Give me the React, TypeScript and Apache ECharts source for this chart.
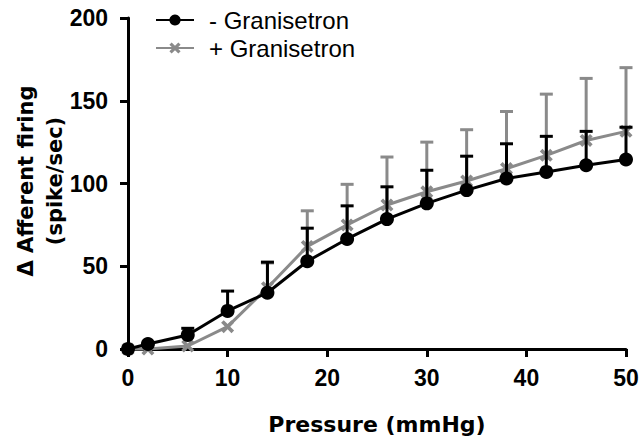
import React, { useEffect, useRef } from "react";
import * as echarts from "echarts";

const pressure = [0, 2, 6, 10, 14, 18, 22, 26, 30, 34, 38, 42, 46, 50];
const minusMean = [0, 3, 8.5, 23, 34, 53, 66.5, 78.5, 88, 96, 103, 107, 111, 114.5];
const minusErr = [0, 0, 4, 12, 18.5, 20, 20, 19.5, 20, 20.5, 21, 21.5, 20.5, 19.5];
const plusMean = [0, 0, 1.8, 13.5, 37, 62, 75, 87, 95, 101.5, 109, 117, 126, 131.5];
const plusErr = [0, 0, 0, 0, 15, 21.5, 24.5, 29, 30, 31, 34.5, 37, 37.5, 38.5];
const xTicks = [0, 10, 20, 30, 40, 50];
const yTicks = [0, 50, 100, 150, 200];

const BLACK = "#000000";
const GREY = "#8a8a8a";
const TICK_FONT = "'Liberation Sans Narrow', 'Liberation Sans', Arial, sans-serif";
const FONT = "'DejaVu Sans', sans-serif";
const LEGEND_FONT = "'Liberation Sans', Arial, sans-serif";

function errSeries(name: string, mean: number[], err: number[], color: string, z: number) {
  const data = pressure.map((x, i) => [x, mean[i], mean[i] + err[i]]);
  return {
    type: "custom",
    name,
    z,
    silent: true,
    data,
    encode: { x: 0, y: [1, 2] },
    renderItem: (params: any, api: any) => {
      const x = api.value(0);
      const m = api.value(1);
      const u = api.value(2);
      if (u - m <= 0) return null;
      const p0 = api.coord([x, m]);
      const p1 = api.coord([x, u]);
      const hw = 6.5;
      return {
        type: "group",
        children: [
          {
            type: "line",
            shape: { x1: p0[0], y1: p0[1], x2: p1[0], y2: p1[1] },
            style: { stroke: color, lineWidth: 3 },
          },
          {
            type: "line",
            shape: { x1: p1[0] - hw, y1: p1[1], x2: p1[0] + hw, y2: p1[1] },
            style: { stroke: color, lineWidth: 3 },
          },
        ],
      };
    },
  };
}

const X_PATH =
  "path://M2,0 L5,3 L8,0 L10,2 L7,5 L10,8 L8,10 L5,7 L2,10 L0,8 L3,5 L0,2 Z";

export default function App() {
  const ref = useRef<HTMLDivElement>(null);
  useEffect(() => {
    if (!ref.current) return;
    const chart = echarts.init(ref.current, undefined, { renderer: "svg" });
    chart.setOption({
      animation: false,
      backgroundColor: "#ffffff",
      grid: { left: 128, right: 16, top: 18, bottom: 92, containLabel: false },
      legend: {
        data: ["- Granisetron", "+ Granisetron"],
        orient: "vertical",
        left: 150,
        top: 3,
        itemWidth: 38,
        itemHeight: 14,
        itemGap: 4,
        textStyle: {
          fontFamily: LEGEND_FONT,
          fontSize: 24,
          color: "#000",
          padding: [0, 0, 0, 10],
        },
      },
      xAxis: {
        type: "value",
        min: 0,
        max: 50,
        interval: 10,
        name: "Pressure (mmHg)",
        nameLocation: "middle",
        nameGap: 64,
        nameTextStyle: { fontFamily: FONT, fontSize: 22, fontWeight: "bold", color: "#000" },
        axisLine: { show: true, onZero: false, lineStyle: { color: "#000", width: 3 } },
        axisTick: { show: true, length: 8, lineStyle: { color: "#000", width: 3 } },
        axisLabel: {
          fontFamily: TICK_FONT,
          fontSize: 23,
          fontWeight: "bold",
          color: "#000",
          margin: 17,
          formatter: (v: number) => (xTicks.includes(v) ? String(v) : ""),
        },
        splitLine: { show: false },
      },
      yAxis: {
        type: "value",
        min: 0,
        max: 200,
        interval: 50,
        axisLine: { show: true, onZero: false, lineStyle: { color: "#000", width: 3 } },
        axisTick: { show: true, length: 8, lineStyle: { color: "#000", width: 3 } },
        axisLabel: {
          fontFamily: TICK_FONT,
          fontSize: 23,
          fontWeight: "bold",
          color: "#000",
          margin: 20,
          formatter: (v: number) => (yTicks.includes(v) ? String(v) : ""),
        },
        splitLine: { show: false },
      },
      graphic: [
        {
          type: "text",
          x: 26,
          y: 181,
          rotation: Math.PI / 2,
          style: {
            text: "Δ Afferent firing",
            fontFamily: FONT,
            fontSize: 21,
            fontWeight: "bold",
            fill: "#000",
            textAlign: "center",
            textVerticalAlign: "middle",
          },
        },
        {
          type: "text",
          x: 55,
          y: 181,
          rotation: Math.PI / 2,
          style: {
            text: "(spike/sec)",
            fontFamily: FONT,
            fontSize: 21,
            fontWeight: "bold",
            fill: "#000",
            textAlign: "center",
            textVerticalAlign: "middle",
          },
        },
      ],
      series: [
        errSeries("errPlus", plusMean, plusErr, GREY, 1),
        {
          type: "line",
          name: "+ Granisetron",
          z: 2,
          data: pressure.map((x, i) => [x, plusMean[i]]),
          symbol: X_PATH,
          symbolSize: 13,
          lineStyle: { color: GREY, width: 3 },
          itemStyle: { color: GREY },
          clip: false,
        },
        errSeries("errMinus", minusMean, minusErr, BLACK, 3),
        {
          type: "line",
          name: "- Granisetron",
          z: 4,
          data: pressure.map((x, i) => [x, minusMean[i]]),
          symbol: "circle",
          symbolSize: 14,
          lineStyle: { color: BLACK, width: 3 },
          itemStyle: { color: BLACK },
          clip: false,
        },
      ],
    });
    return () => chart.dispose();
  }, []);
  return (
    <div
      ref={ref}
      style={{ position: "absolute", left: 0, top: 0, width: 642, height: 441 }}
    />
  );
}
